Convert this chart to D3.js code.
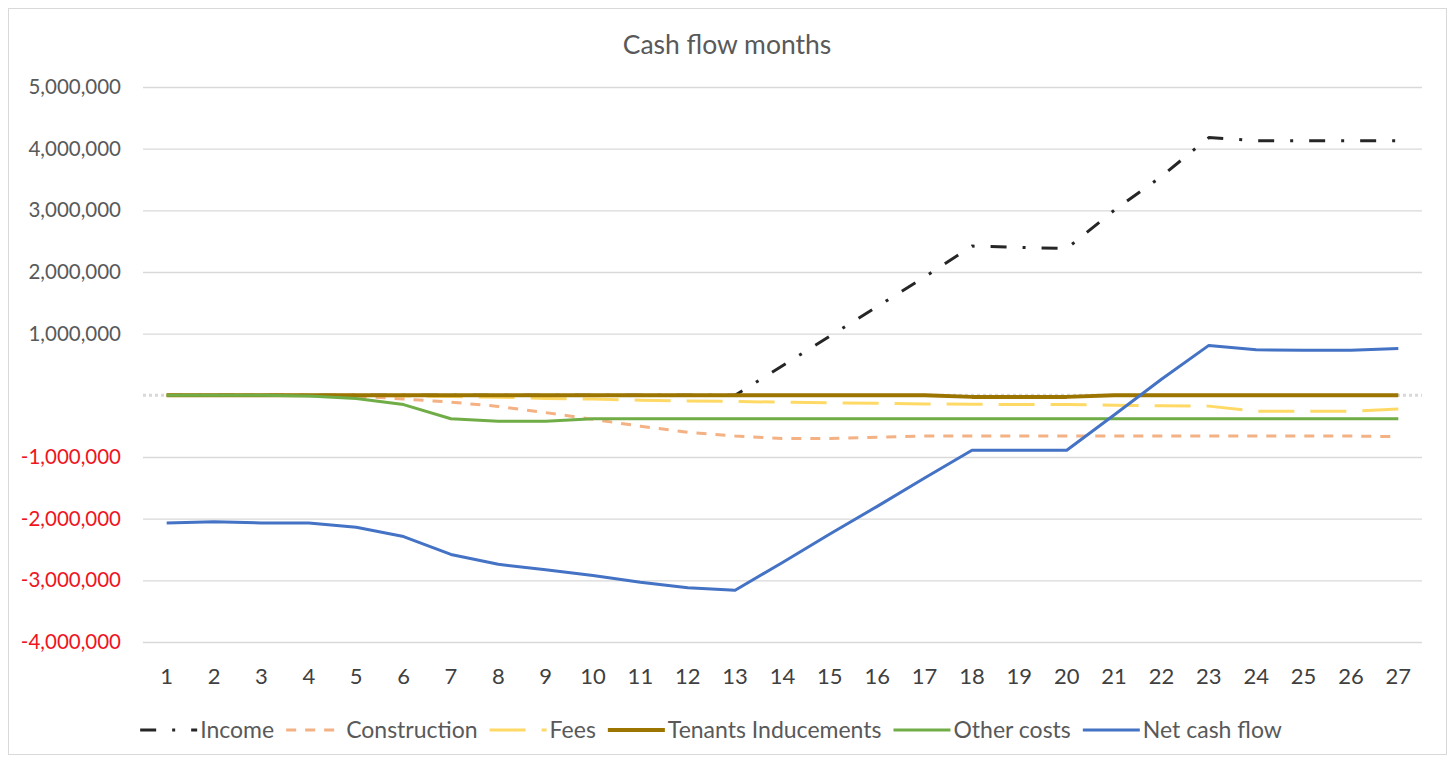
<!DOCTYPE html>
<html>
<head>
<meta charset="utf-8">
<script src="https://cdn.jsdelivr.net/npm/d3@7"></script>
<style>
  html, body { margin: 0; padding: 0; background: #fff; }
  svg { display: block; font-family: Lato, "Open Sans", sans-serif; }
</style>
</head>
<body>
<svg id="chart" width="1450" height="761"></svg>
<script>
// data
const months = d3.range(1, 28).map(String);
const yTicks = [5000000, 4000000, 3000000, 2000000, 1000000, 0, -1000000, -2000000, -3000000, -4000000];

const income = [0, 0, 0, 0, 0, 0, 0, 0, 0, 0, 0, 0, 0,
  480000, 960000, 1440000, 1920000, 2420000, 2400000, 2380000, 3000000, 3550000, 4180000, 4130000, 4130000, 4130000, 4130000];
const construction = [0, 0, 0, 0, -10000, -60000, -110000, -180000, -280000, -390000, -500000, -600000, -660000,
  -700000, -700000, -680000, -660000, -660000, -660000, -660000, -660000, -660000, -660000, -660000, -660000, -660000, -670000];
const fees = [0, 0, 0, 0, 0, -10000, -20000, -30000, -50000, -60000, -80000, -90000, -100000,
  -110000, -120000, -130000, -140000, -145000, -150000, -150000, -160000, -170000, -175000, -260000, -260000, -260000, -220000];
const tenants = [0, 0, 0, 0, 0, 0, 0, 0, 0, 0, 0, 0, 0,
  0, 0, 0, 0, -25000, -25000, -25000, 0, 0, 0, 0, 0, 0, 0];
const otherCosts = [0, 0, 0, -10000, -50000, -150000, -380000, -420000, -420000, -380000, -380000, -380000, -380000,
  -380000, -380000, -380000, -380000, -380000, -380000, -380000, -380000, -380000, -380000, -380000, -380000, -380000, -380000];
const netCashFlow = [-2070000, -2050000, -2070000, -2070000, -2140000, -2290000, -2580000, -2740000, -2830000, -2920000, -3030000, -3120000, -3160000,
  -2710000, -2250000, -1800000, -1340000, -890000, -890000, -890000, -320000, 260000, 810000, 740000, 730000, 730000, 760000];

const series = [
  { name: "Income", values: income, color: "#262626", width: 3, dash: "16,16,3,16" },
  { name: "Construction", values: construction, color: "#F4B183", width: 3, dash: "10,9" },
  { name: "Fees", values: fees, color: "#FFD966", width: 3, dash: "36,16" },
  { name: "Tenants Inducements", values: tenants, color: "#9C7400", width: 4, dash: null },
  { name: "Other costs", values: otherCosts, color: "#70AD47", width: 3, dash: null },
  { name: "Net cash flow", values: netCashFlow, color: "#4472C4", width: 3, dash: null }
];

const svg = d3.select("#chart");
const plot = { left: 143, right: 1422, top: 87, bottom: 642 };

// chart frame
svg.append("rect")
  .attr("x", 8.5).attr("y", 8.5)
  .attr("width", 1438).attr("height", 746)
  .attr("fill", "#fff").attr("stroke", "#D9D9D9").attr("stroke-width", 1);

svg.append("text")
  .attr("x", 727).attr("y", 54)
  .attr("text-anchor", "middle")
  .attr("font-size", 26.5)
  .attr("fill", "#595959")
  .text("Cash flow months");

const x = d3.scaleBand().domain(months).range([plot.left, plot.right]).padding(0);
const y = d3.scaleLinear().domain([-4000000, 5000000]).range([plot.bottom, plot.top]);

const loc = d3.formatLocale({ decimal: ".", thousands: ",", grouping: [3], currency: ["$", ""], minus: "-" });
const fmt = loc.format(",.0f");

// gridlines
const grid = svg.append("g")
  .attr("transform", `translate(${plot.left},0)`)
  .call(d3.axisLeft(y).tickValues(yTicks.filter(d => d !== 0)).tickSize(-(plot.right - plot.left)).tickFormat(""));
grid.select(".domain").remove();
grid.selectAll(".tick line").attr("stroke", "#D9D9D9").attr("stroke-width", 1.3);

// zero line (category axis)
svg.append("line")
  .attr("x1", plot.left).attr("x2", plot.right)
  .attr("y1", y(0)).attr("y2", y(0))
  .attr("stroke", "#D9D9D9").attr("stroke-width", 3)
  .attr("stroke-dasharray", "3,3");

// y labels
const yAxis = svg.append("g")
  .attr("transform", `translate(121,0)`)
  .call(d3.axisLeft(y).tickValues(yTicks).tickSize(0).tickPadding(0)
    .tickFormat(d => d === 0 ? "" : fmt(d)));
yAxis.select(".domain").remove();
yAxis.selectAll("text")
  .attr("font-family", "Lato, sans-serif")
  .attr("font-size", 20.5)
  .attr("fill", d => d < 0 ? "#F0141E" : "#595959");

// x labels
const xAxis = svg.append("g")
  .attr("transform", `translate(0,668)`)
  .call(d3.axisBottom(x).tickSize(0).tickPadding(0));
xAxis.select(".domain").remove();
xAxis.selectAll("text")
  .attr("font-family", "Lato, sans-serif")
  .attr("font-size", 22)
  .attr("fill", "#404040");

// lines
const line = d3.line()
  .x((d, i) => x(months[i]) + x.bandwidth() / 2)
  .y(d => y(d));

svg.append("g").selectAll("path")
  .data(series)
  .join("path")
  .attr("d", d => line(d.values))
  .attr("fill", "none")
  .attr("stroke", d => d.color)
  .attr("stroke-width", d => d.width)
  .attr("stroke-dasharray", d => d.dash)
  .attr("stroke-linejoin", "round");

// legend
const legend = svg.append("g");
const sampleW = 57;
let cx = 0;
legend.selectAll("g").data(series).join("g").each(function (d) {
  const g = d3.select(this);
  g.append("line")
    .attr("x1", 0).attr("x2", sampleW)
    .attr("y1", 0).attr("y2", 0)
    .attr("stroke", d.color)
    .attr("stroke-width", d.width)
    .attr("stroke-dasharray", d.dash);
  const t = g.append("text")
    .attr("x", sampleW + 3).attr("y", 0)
    .attr("dy", "0.35em")
    .attr("font-size", 23)
    .attr("fill", "#595959")
    .text(d.name);
  const w = sampleW + 3 + t.node().getComputedTextLength();
  g.attr("transform", `translate(${cx},0)`);
  cx += w + 12;
});
legend.attr("transform", `translate(${711 - (cx - 12) / 2},730)`);
</script>
</body>
</html>
